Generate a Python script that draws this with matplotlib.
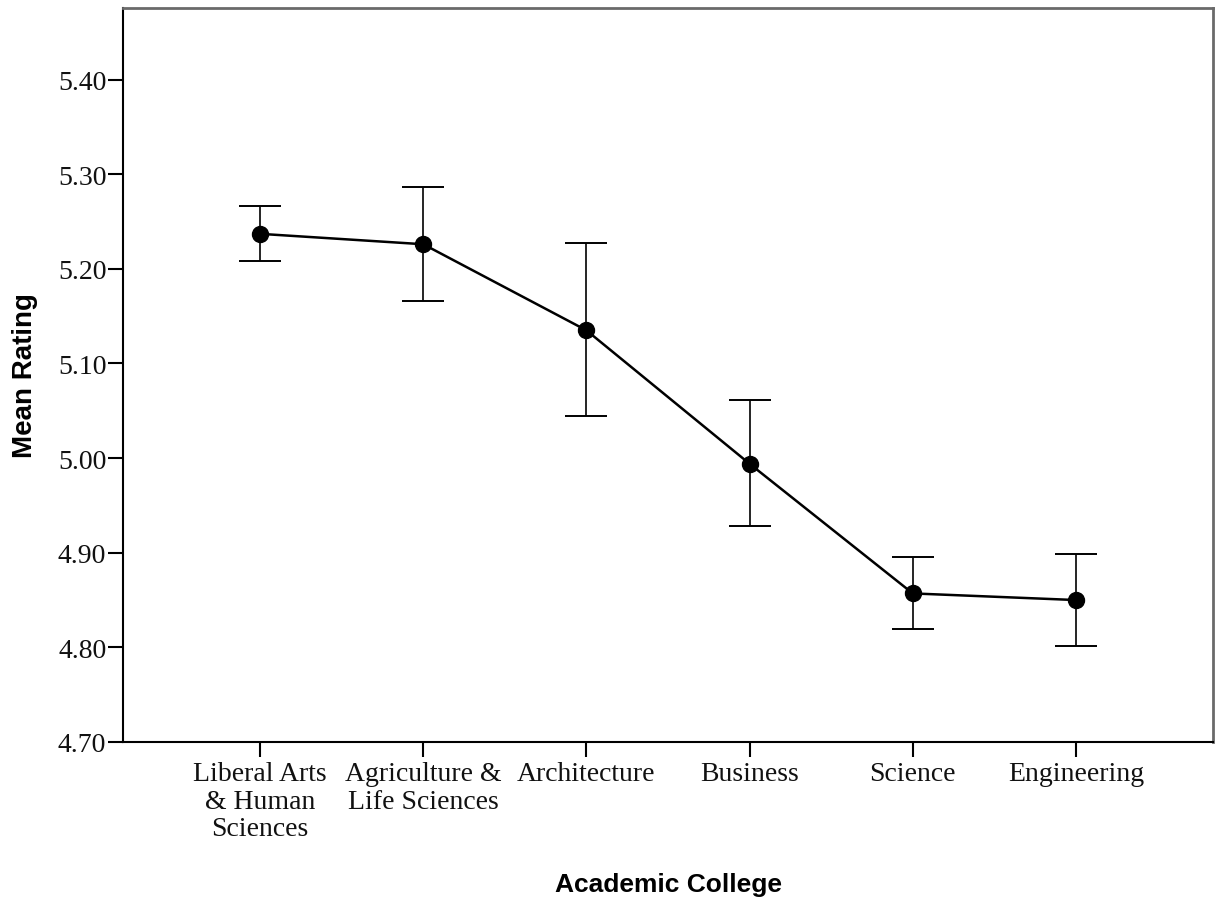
import matplotlib.pyplot as plt

colleges = [
    "Liberal Arts\n& Human\nSciences",
    "Agriculture &\nLife Sciences",
    "Architecture",
    "Business",
    "Science",
    "Engineering",
]
mean_rating = [5.237, 5.226, 5.135, 4.994, 4.857, 4.850]
ci_upper = [5.266, 5.286, 5.227, 5.061, 4.896, 4.899]
ci_lower = [5.208, 5.166, 5.044, 4.928, 4.819, 4.801]
yticks = [4.70, 4.80, 4.90, 5.00, 5.10, 5.20, 5.30, 5.40]


def main():
    fig = plt.figure(figsize=(12.17, 9.03), dpi=100)
    ax = fig.add_axes([0.1011, 0.1772, 0.8956, 0.8132])

    xs = list(range(1, len(colleges) + 1))
    err_lo = [m - lo for m, lo in zip(mean_rating, ci_lower)]
    err_hi = [hi - m for m, hi in zip(mean_rating, ci_upper)]

    ax.errorbar(xs, mean_rating, yerr=[err_lo, err_hi], fmt="none",
                ecolor="black", elinewidth=1.2, capsize=15, capthick=1.4, zorder=2)
    ax.plot(xs, mean_rating, "-", color="black", linewidth=1.8, zorder=3)
    ax.plot(xs, mean_rating, "o", color="black", markersize=11.5, zorder=4)

    ax.set_xlim(0.16, 6.84)
    ax.set_ylim(4.70, 5.476)
    ax.set_yticks(yticks)
    ax.set_yticklabels([f"{v:.2f}" for v in yticks])
    ax.set_xticks(xs)
    ax.set_xticklabels(colleges, linespacing=1.12)

    for lab in ax.get_xticklabels() + ax.get_yticklabels():
        lab.set_fontfamily("Liberation Serif")
        lab.set_fontsize(20)
        lab.set_color("#111111")
    for lab in ax.get_xticklabels():
        lab.set_verticalalignment("top")
        lab.set_horizontalalignment("center")

    ax.tick_params(axis="both", length=11, width=1.5, color="black")
    ax.tick_params(axis="x", pad=3)
    ax.tick_params(axis="y", pad=1)

    for side in ("left", "bottom"):
        ax.spines[side].set_color("black")
        ax.spines[side].set_linewidth(1.5)
    for side in ("top", "right"):
        ax.spines[side].set_color("#6a6a6a")
        ax.spines[side].set_linewidth(2.0)

    ax.set_xlabel("Academic College", fontfamily="Liberation Sans",
                  fontweight="bold", fontsize=19, labelpad=22)
    ax.set_ylabel("Mean Rating", fontfamily="Liberation Sans",
                  fontweight="bold", fontsize=20, labelpad=14)

    fig.savefig("out.png", dpi=100)


if __name__ == "__main__":
    main()
